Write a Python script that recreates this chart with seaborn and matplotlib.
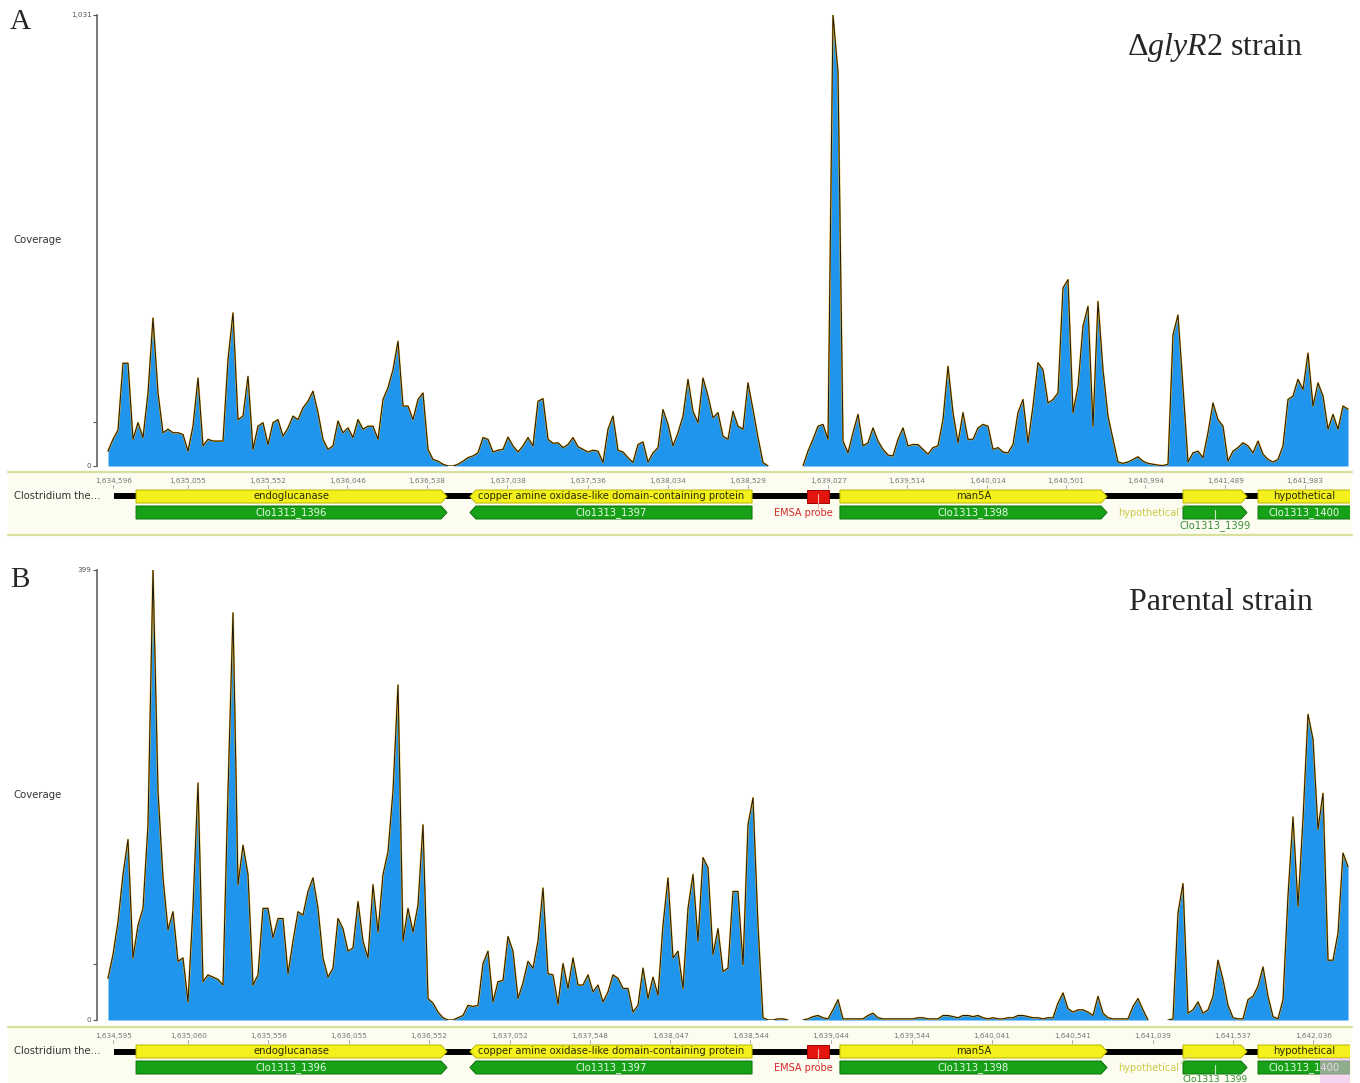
import numpy as np
import pandas as pd
import matplotlib
matplotlib.use("Agg")
import matplotlib.pyplot as plt
import seaborn as sns
from matplotlib.patches import Polygon, Rectangle

sns.set_style("white")
plt.rcParams["font.family"] = ["DejaVu Sans"]
plt.rcParams["mathtext.fontset"] = "custom"
plt.rcParams["mathtext.rm"] = "Liberation Serif"
plt.rcParams["mathtext.it"] = "Liberation Serif:italic"

# coverage sampled every 31 bp from 1,634,562
start_bp = 1634562
step_bp = 31

cov_a = [34, 61, 82, 235, 235, 61, 99, 65, 167, 338,
         167, 76, 84, 76, 76, 72, 34, 91, 201, 46,
         61, 57, 57, 57, 243, 350, 106, 114, 205, 38,
         91, 99, 49, 99, 106, 68, 87, 114, 106, 133,
         148, 171, 122, 61, 38, 46, 103, 76, 87, 65,
         106, 84, 91, 91, 61, 152, 179, 220, 285, 137,
         137, 106, 152, 167, 38, 15, 11, 4, 0, 0,
         4, 11, 19, 23, 30, 65, 61, 32, 36, 38,
         66, 46, 32, 46, 65, 46, 148, 154, 61, 52,
         53, 42, 49, 65, 44, 38, 32, 36, 34, 8,
         84, 114, 36, 32, 19, 8, 49, 55, 9, 30,
         42, 129, 95, 46, 76, 114, 198, 125, 99, 201,
         160, 110, 122, 68, 61, 125, 91, 84, 190, 129,
         65, 8, 0, 0, 0, 0, 0, 0, 0, 0,
         34, 61, 91, 95, 61, 1031, 900, 57, 30, 76,
         118, 46, 53, 87, 57, 38, 25, 23, 61, 87,
         46, 49, 49, 38, 27, 42, 46, 106, 228, 122,
         53, 122, 61, 61, 87, 95, 91, 38, 42, 32,
         30, 49, 122, 152, 53, 137, 236, 220, 144, 152,
         167, 407, 426, 122, 182, 320, 365, 91, 376, 220,
         114, 61, 9, 6, 9, 15, 21, 11, 6, 4,
         2, 1, 4, 300, 345, 180, 9, 30, 34,
         19, 76, 144, 106, 91, 11, 34, 42, 53, 46,
         30, 57, 27, 15, 9, 15, 46, 152, 160, 198,
         175, 258, 137, 190, 160, 84, 118, 84, 137, 130]

cov_b = [37, 58, 87, 129, 160, 55, 84, 99, 173, 399,
         203, 126, 80, 96, 52, 55, 16, 100, 210, 34,
         40, 38, 36, 31, 203, 361, 120, 155, 129, 31,
         40, 99, 99, 73, 90, 90, 41, 70, 96, 93,
         114, 126, 99, 55, 38, 46, 90, 81, 61, 64,
         105, 70, 55, 120, 78, 129, 149, 203, 297, 70,
         99, 78, 102, 173, 19, 15, 7, 2, 0, 0,
         2, 4, 13, 12, 13, 50, 61, 16, 34, 35,
         74, 61, 19, 33, 52, 46, 70, 117, 41, 40,
         14, 50, 28, 55, 31, 31, 40, 25, 31, 16,
         25, 40, 37, 28, 28, 7, 13, 46, 19, 38,
         22, 84, 126, 55, 61, 28, 99, 129, 70, 144,
         135, 58, 81, 43, 46, 114, 114, 49, 173, 197,
         84, 2, 0, 0, 1, 1, 0, 0, 0, 0,
         1, 3, 4, 2, 1, 9, 18, 1, 1, 1,
         1, 1, 4, 6, 2, 1, 1, 1, 1, 1,
         1, 1, 2, 2, 1, 1, 1, 4, 4, 3,
         2, 4, 4, 3, 4, 2, 1, 2, 1, 1,
         2, 2, 4, 4, 3, 2, 2, 1, 2, 2,
         15, 24, 10, 7, 9, 9, 7, 4, 21, 6,
         2, 1, 1, 1, 1, 12, 19, 9, 0, 0,
         0, 0, 0, 1, 95, 121, 6, 9, 16, 6,
         9, 21, 53, 36, 13, 2, 1, 1, 18, 21,
         30, 47, 21, 3, 1, 18, 110, 180, 101, 178,
         271, 249, 169, 201, 53, 53, 77, 148, 136]

ymax_a = 1031
ymax_b = 399

ticks_a = [1634596, 1635055, 1635552, 1636046, 1636538, 1637038, 1637536, 1638034,
           1638529, 1639027, 1639514, 1640014, 1640501, 1640994, 1641489, 1641983]
ticks_b = [1634595, 1635060, 1635556, 1636055, 1636552, 1637052, 1637548, 1638047,
           1638544, 1639044, 1639544, 1640041, 1640541, 1641039, 1641537, 1642036]

gene_names = ["endoglucanase", "copper amine oxidase-like domain-containing protein",
              "man5A", "hypothetical", "hypothetical"]
cds_names = ["Clo1313_1396", "Clo1313_1397", "Clo1313_1398", "Clo1313_1399", "Clo1313_1400"]
gene_start = [1634736, 1636806, 1639100, 1641227, 1641692]
gene_end = [1636664, 1638555, 1640756, 1641624, 1642400]
gene_strand = [1, -1, 1, 1, 1]
backbone_start = 1634599
probe_start, probe_end = 1638896, 1639032

W, H = 1360, 1083
bp_px = step_bp / 5.0
xmin = start_bp - 11 * bp_px
xmax = start_bp + 1242 * bp_px

fig = plt.figure(figsize=(W / 100, H / 100), dpi=100)


def frame(cov):
    cov = np.asarray(cov, float)
    pos = start_bp + step_bp * np.arange(len(cov))
    on = cov > 0
    near = on | np.r_[on[1:], False] | np.r_[False, on[:-1]]
    seg = np.cumsum(~near)
    df = pd.DataFrame({"pos": pos, "cov": cov, "seg": seg})
    return df, df[near]


def coverage(top_px, base_px, cov, ymax, mid):
    ax = fig.add_axes([97 / W, 1 - base_px / H, 1253 / W, (base_px - top_px) / H])
    full, part = frame(cov)
    ax.fill_between(full["pos"], 0, full["cov"], color="#1f95ee", lw=0, zorder=1)
    sns.lineplot(data=part, x="pos", y="cov", units="seg", estimator=None,
                 color="#f2b21c", lw=1.3, ax=ax, legend=False, zorder=2)
    sns.lineplot(data=part, x="pos", y="cov", units="seg", estimator=None,
                 color="#151515", lw=0.7, ax=ax, legend=False, zorder=3)
    ax.set_xlim(xmin, xmax)
    ax.set_ylim(0, ymax)
    for s in ["top", "right", "bottom"]:
        ax.spines[s].set_visible(False)
    ax.spines["left"].set_color("#555555")
    ax.spines["left"].set_linewidth(1.1)
    ax.set_xticks([])
    ax.set_yticks([0, mid, ymax])
    ax.set_yticklabels(["0", "", f"{ymax:,}"])
    ax.tick_params(axis="y", length=3, width=0.8, labelsize=5.2, colors="#555555", pad=1, left=True)
    ax.set_xlabel("")
    ax.set_ylabel("")
    ax.patch.set_alpha(0)
    return ax


def arrow(ax, s, e, strand, y0, y1, fc, ec, tip):
    ym = (y0 + y1) / 2
    if strand > 0:
        pts = [(s, y0), (e - tip, y0), (e, ym), (e - tip, y1), (s, y1)]
    else:
        pts = [(s + tip, y0), (e, y0), (e, y1), (s + tip, y1), (s, ym)]
    ax.add_patch(Polygon(pts, closed=True, fc=fc, ec=ec, lw=0.7, zorder=3, clip_on=True))


def track(top_px, ticks, pink=False, low_y=54, low_size=7.2):
    # background band
    fig.patches.append(Rectangle((8 / W, 1 - (top_px + 64) / H), 1344 / W, 64 / H,
                                 transform=fig.transFigure, fc="#fcfcf0", ec="none", zorder=-2))
    for yy in (top_px, top_px + 63):
        fig.add_artist(plt.Line2D([8 / W, 1352 / W], [1 - yy / H, 1 - yy / H],
                                  transform=fig.transFigure, color="#d9df9c", lw=1.6, zorder=-1))
    fig.text(14 / W, 1 - (top_px + 24) / H, "Clostridium the...", fontsize=7.2,
             color="#333333", va="center", ha="left")
    ax = fig.add_axes([97 / W, 1 - (top_px + 64) / H, 1253 / W, 64 / H])
    ax.set_xlim(xmin, xmax)
    ax.set_ylim(64, 0)
    ax.axis("off")
    tip = 6 * bp_px
    for t in ticks:
        ax.text(t, 9, f"{t:,}", fontsize=5.2, color="#777777", ha="center", va="center")
        ax.plot([t, t], [13, 16], color="#999999", lw=0.6)
    ax.plot([backbone_start, xmax], [24.5, 24.5], color="black", lw=4.3,
            solid_capstyle="butt", zorder=2)
    for name, cds, s, e, st in zip(gene_names, cds_names, gene_start, gene_end, gene_strand):
        arrow(ax, s, e, st, 18, 31, "#f4f01c", "#b9b600", tip)
        arrow(ax, s, e, st, 34, 47, "#17a117", "#0e700e", tip)
        cx = (s + min(e, xmax)) / 2
        if e - s > 600:
            ax.text(cx, 24.5, name, fontsize=7.2, color="#2c2c00", ha="center", va="center", zorder=4)
            ax.text(cx, 40.5, cds, fontsize=7.2, color="#e8f8e8", ha="center", va="center", zorder=4)
        else:
            ax.text(s - 4 * bp_px, 41, name, fontsize=7, color="#c9c94a",
                    ha="right", va="center", zorder=4)
            ax.plot([s - 3 * bp_px, s + 8 * bp_px], [37, 28], color="#d6d68a", lw=0.6, zorder=4)
            ax.text(cx, low_y, cds, fontsize=low_size, color="#3a8f3a", ha="center",
                    va="center", zorder=4)
            ax.plot([cx, cx], [38, 47], color="#c8e8c8", lw=0.8, zorder=4)
    ax.add_patch(Rectangle((probe_start, 18), probe_end - probe_start, 13,
                           fc="#e4140f", ec="#a00000", lw=0.7, zorder=4))
    pc = (probe_start + probe_end) / 2
    ax.plot([pc, pc], [22, 36], color="#f0b0b0", lw=0.8, zorder=5)
    ax.text(pc - 15 * bp_px, 41, "EMSA probe", fontsize=7, color="#d42a2a",
            ha="center", va="center", zorder=6)
    if pink:
        ax.add_patch(Rectangle((xmax - 30 * bp_px, 31), 30 * bp_px, 30,
                               fc="#f0b8f0", ec="none", alpha=0.55, zorder=6, clip_on=False))
    return ax


coverage(15, 466, cov_a, ymax_a, 100)
coverage(570, 1020, cov_b, ymax_b, 50)
track(472, ticks_a)
track(1027, ticks_b, pink=True, low_y=51.5, low_size=6.6)

fig.text(10 / W, 1 - 22 / H, "A", fontsize=21, family="Liberation Serif", va="center", ha="left")
fig.text(10 / W, 1 - 580 / H, "B", fontsize=21, family="Liberation Serif", va="center", ha="left")
fig.text(13 / W, 1 - 240 / H, "Coverage", fontsize=7.3, color="#333333", va="center")
fig.text(13 / W, 1 - 795 / H, "Coverage", fontsize=7.3, color="#333333", va="center")
fig.text(1303 / W, 1 - 47 / H, r"Δ$\mathit{glyR2}$ strain", fontsize=23,
         family="Liberation Serif", ha="right", va="center")
fig.text(1313 / W, 1 - 603 / H, "Parental strain", fontsize=23,
         family="Liberation Serif", ha="right", va="center")

fig.savefig("out.png", dpi=100, facecolor="white")
